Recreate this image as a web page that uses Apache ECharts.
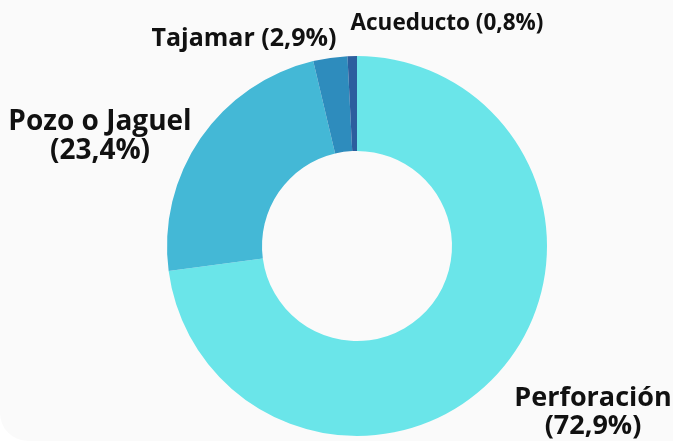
<!DOCTYPE html>
<html>
<head>
<meta charset="utf-8">
<script src="https://cdn.jsdelivr.net/npm/echarts@6/dist/echarts.min.js"></script>
<style>
html, body { margin: 0; padding: 0; background: #ffffff; }
#chart1 { width: 673px; height: 441px; background: #fafafa; border-radius: 0 0 0 28px; }
</style>
</head>
<body>
<div id="chart1"></div>
<script>
var categories = ['Perforación', 'Pozo o Jaguel', 'Tajamar', 'Acueducto'];
var values = [72.9, 23.4, 2.9, 0.8];
var colors = ['#6ae5e9', '#44b8d6', '#2e8cbd', '#2c5e9e'];
// label anchor (center x, top y) and size per slice
var labelPos = [[593, 384], [100, 108], [244, 26], [447, 12]];
var labelSize = [27, 28, 25, 22.5];
var labelBreak = [true, true, false, false];

var dom = document.getElementById("chart1");
var myChart = echarts.init(dom);

var data = categories.map(function (c, i) {
  return {
    name: c,
    value: values[i],
    itemStyle: { color: colors[i] },
    label: { fontSize: labelSize[i], lineHeight: labelSize[i] + 1 }
  };
});

option = {
  backgroundColor: 'transparent',
  series: [
    {
      type: 'pie',
      center: [357, 246],
      radius: [95, 190],
      startAngle: 90,
      clockwise: true,
      silent: true,
      data: data,
      label: {
        show: true,
        position: 'outside',
        fontFamily: 'Open Sans',
        fontWeight: 'bold',
        color: '#111111',
        align: 'center',
        overflow: 'none',
        formatter: function (p) {
          var v = p.value.toFixed(1).replace('.', ',');
          return p.name + (labelBreak[p.dataIndex] ? '\n' : ' ') + '(' + v + '%)';
        }
      },
      labelLine: { show: false },
      labelLayout: function (p) {
        var pos = labelPos[p.dataIndex];
        return { x: pos[0], y: pos[1], align: 'center', verticalAlign: 'top', hideOverlap: false };
      }
    }
  ]
};

myChart.setOption(option);
</script>
</body>
</html>
